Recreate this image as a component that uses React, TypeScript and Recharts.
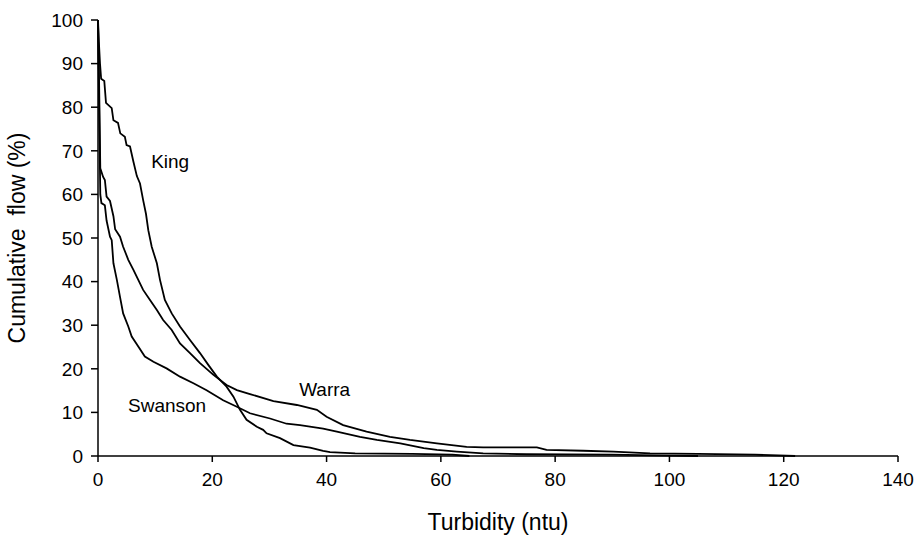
import React from 'react';
import { LineChart, Line, XAxis, YAxis, ReferenceDot } from 'recharts';

const kingX = [0, 0.15, 0.35, 0.55, 1.1, 1.4, 2.4, 2.7, 3.5, 3.9, 4.7, 5.0, 5.6, 6.2, 6.8, 7.35, 7.9, 8.4, 8.8, 9.4, 10.3, 10.85, 11.7, 12.9, 14.35, 16.1, 17.85, 19.3, 20.8, 22.5, 23.7, 24.85, 26, 27.8, 28.9, 29.5, 31.85, 34.2, 37.1, 39.4, 40.6, 45, 55, 62, 65];
const kingY = [100, 95, 90, 86.5, 86, 81, 79.8, 77, 76.4, 74, 73.2, 71.3, 71, 67.5, 64.2, 62.5, 58.7, 55.5, 51.8, 48, 44.2, 40.4, 35.8, 32.7, 29.7, 26.6, 23.6, 20.9, 18.2, 15.9, 13.6, 10.6, 8.3, 6.7, 6.0, 5.2, 4.1, 2.5, 1.9, 1.2, 0.9, 0.6, 0.5, 0.3, 0];

const warraX = [0, 0.2, 0.4, 0.9, 1.2, 1.5, 2.1, 2.7, 3.0, 3.85, 4.4, 5.3, 6.2, 7.05, 7.9, 9.1, 10.3, 11.4, 12.9, 14.35, 16.1, 17.85, 20.2, 22.5, 24.3, 26.6, 30.7, 34.8, 38.3, 40, 42.9, 47, 51.1, 54.6, 59.3, 64.5, 67.4, 76.8, 78.5, 84.9, 90.2, 96.6, 105, 115, 122];
const warraY = [100, 85, 66, 64, 63.3, 59.5, 58.5, 55, 52, 50.3, 48, 45, 42.7, 40.4, 38.1, 35.8, 33.5, 31.2, 28.9, 25.8, 23.6, 21.3, 18.6, 16.3, 15.1, 14.2, 12.6, 11.7, 10.6, 9.0, 7.1, 5.6, 4.4, 3.7, 2.9, 2.1, 2.0, 2.0, 1.4, 1.2, 1.0, 0.6, 0.5, 0.3, 0];

const swansonX = [0, 0.2, 0.4, 0.6, 1.2, 1.5, 2.1, 2.4, 2.7, 3.3, 3.85, 4.4, 5.3, 5.9, 7.05, 8.2, 9.7, 12, 14.35, 16.7, 19, 21.9, 24.3, 26.6, 30.1, 33, 35.35, 39.4, 41.8, 45.85, 48.8, 52.9, 57, 59.3, 62.8, 67.4, 75, 90, 100, 105];
const swansonY = [100, 80, 60, 58, 57.5, 54, 50.3, 49.5, 44.2, 40.4, 36.5, 32.7, 29.7, 27.4, 25.1, 22.8, 21.6, 20.1, 18.2, 16.7, 15.1, 12.8, 11.3, 9.8, 8.6, 7.4, 7.1, 6.3, 5.6, 4.4, 3.7, 2.9, 1.8, 1.4, 1.0, 0.6, 0.4, 0.3, 0.1, 0];

const xTicks = [0, 20, 40, 60, 80, 100, 120, 140];
const yTicks = [0, 10, 20, 30, 40, 50, 60, 70, 80, 90, 100];

const seriesNames = ['King', 'Warra', 'Swanson'];
const labelX = [9.3, 35.2, 5.25];
const labelY = [67.5, 15.25, 11.7];

const toPoints = (xs: number[], ys: number[]) => xs.map((x, i) => ({ x, y: ys[i] }));

const FONT = '"Liberation Sans", Arial, Helvetica, sans-serif';

export default function App() {
  const king = toPoints(kingX, kingY);
  const warra = toPoints(warraX, warraY);
  const swanson = toPoints(swansonX, swansonY);
  return (
    <div style={{ position: 'fixed', left: 0, top: 0, width: 922, height: 538, background: '#fff' }}>
      <LineChart width={922} height={538} margin={{ top: 20, right: 24, left: 0, bottom: 0 }} style={{ fontFamily: FONT }}>
        <XAxis
          type="number"
          dataKey="x"
          domain={[0, 140]}
          ticks={xTicks}
          height={82}
          tickSize={6}
          tickMargin={11}
          stroke="#000"
          strokeWidth={1.5}
          tick={{ fill: '#000', fontSize: 19, fontFamily: FONT }}
          label={{ value: 'Turbidity (ntu)', position: 'insideBottom', offset: 8.5, fill: '#000', fontSize: 23, fontFamily: FONT }}
        />
        <YAxis
          type="number"
          dataKey="y"
          domain={[0, 100]}
          ticks={yTicks}
          width={98}
          tickSize={7}
          tickMargin={8}
          stroke="#000"
          strokeWidth={1.5}
          tick={{ fill: '#000', fontSize: 19, fontFamily: FONT }}
          label={{ value: 'Cumulative\u00A0 flow (%)', angle: -90, position: 'insideLeft', offset: 17, fill: '#000', fontSize: 23, fontFamily: FONT, style: { textAnchor: 'middle' } }}
        />
        <Line data={king} dataKey="y" type="linear" stroke="#000" strokeWidth={1.8} dot={false} isAnimationActive={false} />
        <Line data={warra} dataKey="y" type="linear" stroke="#000" strokeWidth={1.8} dot={false} isAnimationActive={false} />
        <Line data={swanson} dataKey="y" type="linear" stroke="#000" strokeWidth={1.8} dot={false} isAnimationActive={false} />
        {seriesNames.map((name, i) => (
          <ReferenceDot
            key={name}
            x={labelX[i]}
            y={labelY[i]}
            r={0}
            stroke="none"
            fill="none"
            label={{ value: name, position: 'right', offset: 0, fill: '#000', fontSize: 19, fontFamily: FONT }}
          />
        ))}
      </LineChart>
    </div>
  );
}
